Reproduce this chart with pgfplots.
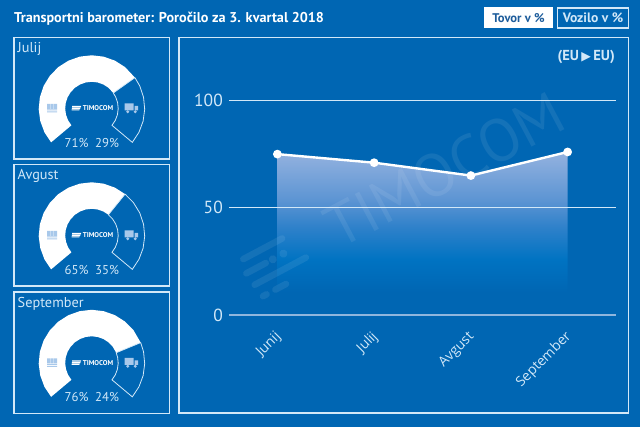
\documentclass[border=0pt]{standalone}
\usepackage{fontspec}
\setmainfont{PT Sans}
\newfontfamily\catfont{Open Sans}
\newfontfamily\symfont{DejaVu Sans}
\usepackage{pgfplots}
\pgfplotsset{compat=1.18}
\usepgfplotslibrary{polar}

\definecolor{bg}{HTML}{0066B3}
\definecolor{pale}{HTML}{D2E8F8}
\definecolor{zero}{HTML}{8FB6DE}
\definecolor{icon}{HTML}{A8C8EA}
\definecolor{navy}{HTML}{1D5C9B}
\definecolor{fadeA}{HTML}{0073C2}
\definecolor{fadeB}{HTML}{2F81CA}
\definecolor{fadeC}{HTML}{5B94D3}
\definecolor{fadeD}{HTML}{94B2DF}
\pgfdeclareverticalshading{areafade}{100bp}{
  color(0bp)=(bg); color(25bp)=(bg); color(32bp)=(bg);
  color(42bp)=(fadeA); color(52bp)=(fadeB); color(60bp)=(fadeC);
  color(75bp)=(fadeD); color(100bp)=(fadeD)}

\newcommand{\fs}[1]{\fontsize{#1}{#1}\selectfont}

% one gauge panel: centre y in image pixels, month, two labels, both sectors
\newcommand{\gauge}[6]{%
  \pgfmathsetmacro\gy{427-#1}
  \begin{scope}[shift={(0pt,\gy pt)},x=1pt,y=1pt]
    \draw[pale,line width=1.3pt] (14,70.8) rectangle (169.7,-50.7);
    \node[pale,anchor=base west,inner sep=0pt] at (17.5,55.5) {\fs{14.3}#2};
    \node[pale,inner sep=0pt] at (76.5,-34.5) {\fs{12.8}#3};
    \node[pale,inner sep=0pt] at (107,-34.5) {\fs{12.8}#4};
  \end{scope}
  \begin{polaraxis}[
    at={(91.7pt,\gy pt)}, anchor=center, hide axis, clip=false,
    scale only axis, width=106pt, height=106pt,
    xmin=0, xmax=360, ymin=0, ymax=53,
    x filter/.expression={220-2.6*x},
  ]
    \addplot[fill=white,draw=none] coordinates {#5};
    \addplot[pale,line width=0.8pt] coordinates {#6};
  \end{polaraxis}
  \begin{scope}[shift={(91.7pt,\gy pt)},x=1pt,y=1pt]
    % pallet icon
    \fill[icon] (-44.5,-0.5) rectangle (-41.5,4.5) (-41,-0.5) rectangle (-38,4.5) (-37.5,-0.5) rectangle (-34.5,4.5);
    \fill[icon] (-44.5,-2) rectangle (-34.5,-1) (-44.5,-4) rectangle (-34.5,-3.2);
    % truck icon
    \fill[icon] (33,-2) rectangle (42,5) (43,-2) rectangle (46.5,2.5);
    \fill[icon] (36,-3.5) circle (1.6) (43.5,-3.5) circle (1.6);
    % logo
    \fill[white] (-19.5,2.3) -- (-10.5,2.3) -- (-10.9,1.2) -- (-19.5,1.2) -- cycle
                 (-19.8,0.6) -- (-11.1,0.6) -- (-11.5,-0.5) -- (-19.8,-0.5) -- cycle
                 (-20,-1.1) -- (-12,-1.1) -- (-12.4,-2.2) -- (-20,-2.2) -- cycle;
    \node[white,anchor=west,inner sep=0pt] at (-9,0) {\fs{7}\bfseries TIMOCOM};
  \end{scope}
}

\begin{document}
\begin{tikzpicture}[x=1pt,y=1pt]
\fill[bg] (0,0) rectangle (640,427);
\useasboundingbox (0,0) rectangle (640,427);

\node[white,anchor=west,inner sep=0pt] at (14,408) {\fs{14.2}\bfseries Transportni barometer: Poročilo za 3. kvartal 2018};
\fill[white] (484,398.5) rectangle (553,419.5);
\node[navy,inner sep=0pt] at (518.5,409) {\fs{12.6}\bfseries Tovor v \%};
\draw[pale,line width=1.5pt] (557.5,399) rectangle (628.5,419);
\node[pale,inner sep=0pt] at (593,409) {\fs{13.6}\bfseries Vozilo v \%};

\draw[pale,line width=1.3pt] (179,389.3) rectangle (628.7,14);
\node[pale,anchor=east,inner sep=0pt] at (615,370.5) {\fs{14.5}\bfseries (EU\,{\symfont\fs{12.5}▶}\,EU)};

\gauge{108.3}{Julij}{71\%}{29\%}
  {(0,53)(5,53)(10,53)(15,53)(20,53)(25,53)(30,53)(35,53)(40,53)(45,53)(50,53)(55,53)(60,53)(65,53)(71,53)
   (71,26.5)(65,26.5)(60,26.5)(55,26.5)(50,26.5)(45,26.5)(40,26.5)(35,26.5)(30,26.5)(25,26.5)(20,26.5)(15,26.5)(10,26.5)(5,26.5)(0,26.5)(0,53)}
  {(71,53)(75,53)(80,53)(85,53)(90,53)(95,53)(100,53)(100,26.5)(95,26.5)(90,26.5)(85,26.5)(80,26.5)(75,26.5)(71,26.5)(71,53)}
\gauge{235.3}{Avgust}{65\%}{35\%}
  {(0,53)(5,53)(10,53)(15,53)(20,53)(25,53)(30,53)(35,53)(40,53)(45,53)(50,53)(55,53)(60,53)(65,53)
   (65,26.5)(60,26.5)(55,26.5)(50,26.5)(45,26.5)(40,26.5)(35,26.5)(30,26.5)(25,26.5)(20,26.5)(15,26.5)(10,26.5)(5,26.5)(0,26.5)(0,53)}
  {(65,53)(70,53)(75,53)(80,53)(85,53)(90,53)(95,53)(100,53)(100,26.5)(95,26.5)(90,26.5)(85,26.5)(80,26.5)(75,26.5)(70,26.5)(65,26.5)(65,53)}
\gauge{362.8}{September}{76\%}{24\%}
  {(0,53)(5,53)(10,53)(15,53)(20,53)(25,53)(30,53)(35,53)(40,53)(45,53)(50,53)(55,53)(60,53)(65,53)(70,53)(76,53)
   (76,26.5)(70,26.5)(65,26.5)(60,26.5)(55,26.5)(50,26.5)(45,26.5)(40,26.5)(35,26.5)(30,26.5)(25,26.5)(20,26.5)(15,26.5)(10,26.5)(5,26.5)(0,26.5)(0,53)}
  {(76,53)(80,53)(85,53)(90,53)(95,53)(100,53)(100,26.5)(95,26.5)(90,26.5)(85,26.5)(80,26.5)(76,26.5)(76,53)}

\begin{axis}[
    at={(229pt,112pt)}, anchor=south west,
    scale only axis, width=387pt, height=214.5pt,
    xmin=-0.5, xmax=3.5, ymin=0, ymax=100,
    axis x line*=bottom, axis y line*=left,
    axis on top,
    x axis line style={zero,line width=1.5pt,-},
    y axis line style={draw=none},
    xtick={0,1,2,3}, xticklabels={Junij,Julij,Avgust,September},
    ytick={0,50,100},
    major tick length=0pt,
    ymajorgrids, grid style={pale,line width=0.9pt},
    /pgf/number format/assume math mode=true,
    y tick label style={pale,inner sep=0pt,xshift=-6pt,font=\fs{17.5}},
    x tick label style={rotate=45,anchor=north east,pale,inner sep=0pt,xshift=-13pt,yshift=-8pt,font=\catfont\fs{13.8}},
    clip=false,
]
\addplot[draw=none,shade,shading=areafade] coordinates {(0,75)(1,71)(2,65)(3,76)} \closedcycle;
\addplot[white,line width=2.4pt,mark=*,mark size=3.1pt,mark options={fill=white,draw=white}] coordinates {(0,75)(1,71)(2,65)(3,76)};
\end{axis}

% watermark
\begin{scope}[opacity=0.08]
  \node[white,rotate=28,inner sep=0pt] at (445,257) {\fs{60}TIMOCOM};
  \begin{scope}[shift={(280,167)},rotate=28,line cap=round,white,line width=6.5pt]
    \draw (-32,18) -- (12,18);
    \draw (-36,4) -- (-14,4);
    \fill (-6,4) circle (4) (6,4) circle (4);
    \draw (-34,-10) -- (24,-10);
    \draw (-32,-24) -- (-28,-24);
    \draw (-18,-24) -- (-6,-24);
  \end{scope}
\end{scope}
\end{tikzpicture}
\end{document}
